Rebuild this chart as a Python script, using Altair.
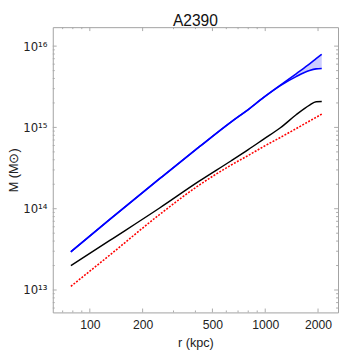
import altair as alt
import pandas as pd

# radius grid (kpc)
r_kpc = [78, 130, 250, 420, 640, 800, 980, 1220, 1500, 1790, 1950, 2100]
# masses (solar masses)
m_blue_upper = [2.95e13, 7.41e13, 2.34e14, 5.75e14, 1.17e15, 1.66e15, 2.34e15, 3.31e15, 4.57e15, 6.03e15, 7.0e15, 7.94e15]
m_blue_lower = [2.95e13, 7.41e13, 2.34e14, 5.75e14, 1.17e15, 1.66e15, 2.34e15, 3.27e15, 4.22e15, 5.01e15, 5.25e15, 5.31e15]
m_black = [1.99e13, 4.07e13, 1.02e14, 2.18e14, 3.89e14, 5.33e14, 7.18e14, 9.9e14, 1.43e15, 1.88e15, 2.07e15, 2.08e15]
m_red = [1.11e13, 2.69e13, 8.49e13, 1.95e14, 3.45e14, 4.52e14, 5.82e14, 7.53e14, 9.66e14, 1.2e15, 1.33e15, 1.46e15]

x_major = [100, 200, 500, 1000, 2000]
x_minor = [70, 80, 90, 300, 400, 600, 700, 800, 900]
y_major = [1e13, 1e14, 1e15, 1e16]
y_minor = [m * 10 ** e for e in (12, 13, 14, 15) for m in range(2, 10)]
y_minor = [v for v in y_minor if 5.3e12 <= v <= 1.71e16]

W, H = 293, 293
xs = alt.Scale(type="log", domain=[61.5, 2600], nice=False)
ys = alt.Scale(type="log", domain=[5.3e12, 1.71e16], nice=False)

df = pd.DataFrame({"r": r_kpc, "up": m_blue_upper, "lo": m_blue_lower,
                   "black": m_black, "red": m_red})

sup = {"13": "¹³", "14": "¹⁴", "15": "¹⁵", "16": "¹⁶"}
lab = "''"
for e in ["13", "14", "15", "16"]:
    lab = f"(round(log(datum.value)/LN10)=={e}) ? '10{sup[e]}' : ({lab})"

X = alt.X("r:Q", scale=xs, title="r (kpc)",
          axis=alt.Axis(values=x_major, format="d", labelPadding=7, titlePadding=5,
                        labelFontSize=12.5))
Y = alt.Y("up:Q", scale=ys, title="M (M⊙)",
          axis=alt.Axis(values=y_major, labelExpr=lab, labelPadding=6, titlePadding=2,
                        labelFont="DejaVu Sans", labelFontSize=12))

base = alt.Chart(df)
band = base.mark_area(color="blue", opacity=0.2, interpolate="monotone").encode(
    x=X, y=Y, y2="lo:Q")
up = base.mark_line(color="#0000ff", strokeWidth=1.6, interpolate="monotone").encode(x=X, y=Y)
lo = base.mark_line(color="#0000ff", strokeWidth=1.6, interpolate="monotone").encode(
    x=alt.X("r:Q", scale=xs), y=alt.Y("lo:Q", scale=ys))
blk = base.mark_line(color="black", strokeWidth=1.5, interpolate="monotone").encode(
    x=alt.X("r:Q", scale=xs), y=alt.Y("black:Q", scale=ys))
red = base.mark_line(color="#ff0000", strokeWidth=1.6, strokeDash=[2, 1.5], interpolate="monotone").encode(
    x=alt.X("r:Q", scale=xs), y=alt.Y("red:Q", scale=ys))

tick_col = "#aaaaaa"
tick_layers = []
for vals, ln in ((x_major, 4), (x_minor, 2)):
    d = pd.DataFrame({"t": vals})
    tick_layers.append(alt.Chart(d).mark_rule(color=tick_col, strokeWidth=1).encode(
        x=alt.X("t:Q", scale=xs), y=alt.value(H), y2=alt.value(H - ln)))
    tick_layers.append(alt.Chart(d).mark_rule(color=tick_col, strokeWidth=1).encode(
        x=alt.X("t:Q", scale=xs), y=alt.value(0), y2=alt.value(ln)))
for vals, ln in ((y_major, 4), (y_minor, 2)):
    d = pd.DataFrame({"t": vals})
    tick_layers.append(alt.Chart(d).mark_rule(color=tick_col, strokeWidth=1).encode(
        y=alt.Y("t:Q", scale=ys), x=alt.value(0), x2=alt.value(ln)))
    tick_layers.append(alt.Chart(d).mark_rule(color=tick_col, strokeWidth=1).encode(
        y=alt.Y("t:Q", scale=ys), x=alt.value(W), x2=alt.value(W - ln)))

chart = alt.layer(band, up, lo, blk, red, *tick_layers).properties(
    width=W, height=H,
    title=alt.Title("A2390", fontSize=16, font="Liberation Sans", fontWeight="normal", color="#111", offset=-2),
    padding={"left": 0, "top": 0, "right": 0, "bottom": 0},
).configure_view(stroke="#a0a0a0", strokeWidth=1).configure_axis(
    domain=False, ticks=False, grid=False, labelFont="Liberation Sans", labelFontSize=12,
    labelColor="#222", titleFont="Liberation Sans", titleFontSize=13, titleFontWeight="normal",
    titleColor="#222")

chart.save("out.html", embed_options={"renderer": "svg", "actions": False})
